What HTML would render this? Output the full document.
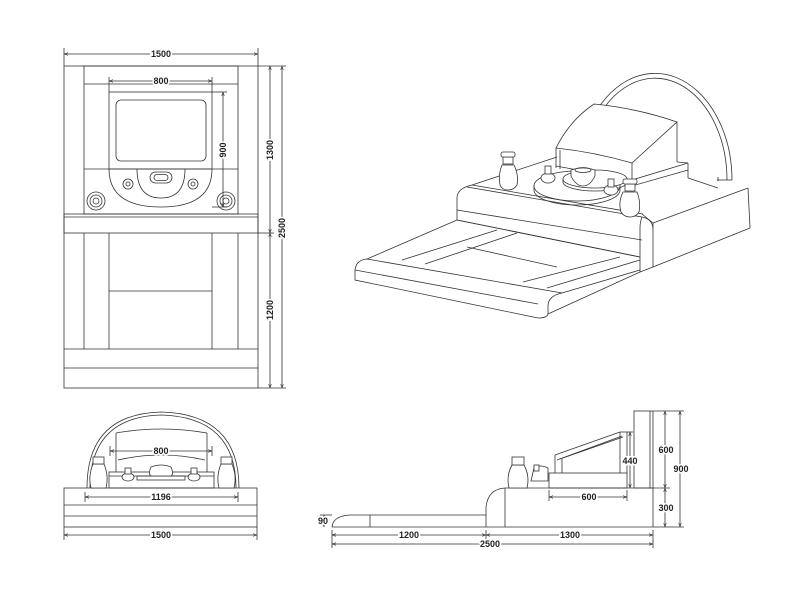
<!DOCTYPE html>
<html><head><meta charset="utf-8"><style>
html,body{margin:0;padding:0;background:#fff;}
svg{display:block;}
text{font-family:"Liberation Sans",sans-serif;font-size:9px;font-weight:bold;fill:#222;}
</style></head><body>
<svg width="800" height="600" viewBox="0 0 800 600" xmlns="http://www.w3.org/2000/svg">
<defs>
<marker id="a" viewBox="0 0 6 6" refX="6" refY="3" markerWidth="5" markerHeight="5" orient="auto-start-reverse"><path d="M0,1 L6,3 L0,5" fill="none" stroke="#333" stroke-width="0.8"/></marker>
</defs>
<g fill="none" stroke="#333" stroke-width="0.8">
<!-- ===== TOP VIEW ===== -->
<rect x="64" y="66" width="194" height="322"/>
<rect x="84" y="66" width="154" height="148"/>
<line x1="84" y1="84" x2="238" y2="84"/>
<rect x="64" y="214" width="194" height="19"/>
<line x1="64" y1="217" x2="258" y2="217"/>
<rect x="109" y="92" width="103" height="77"/>
<rect x="116" y="100" width="90" height="61" rx="5"/>
<line x1="84" y1="169" x2="238" y2="169"/>
<path d="M109,169 Q109,207 161,207 Q212,207 212,169"/>
<path d="M137,169 Q137,198 161,198 Q185,198 185,169"/>
<rect x="150" y="172" width="22" height="11" rx="5.5"/>
<rect x="154" y="174.5" width="14" height="6" rx="3"/>
<circle cx="128" cy="184" r="5"/><circle cx="128" cy="184" r="2"/>
<circle cx="193" cy="184" r="5"/><circle cx="193" cy="184" r="2"/>
<circle cx="96" cy="201" r="9"/><circle cx="96" cy="201" r="6"/><circle cx="96" cy="201" r="3"/>
<circle cx="226" cy="201" r="9"/><circle cx="226" cy="201" r="6"/><circle cx="226" cy="201" r="3"/>
<line x1="84" y1="233" x2="84" y2="349"/><line x1="109" y1="233" x2="109" y2="349"/>
<line x1="212" y1="233" x2="212" y2="349"/><line x1="238" y1="233" x2="238" y2="349"/>
<line x1="109" y1="291" x2="212" y2="291"/>
<line x1="64" y1="349" x2="258" y2="349"/>
<line x1="64" y1="368" x2="258" y2="368"/>
<!-- dims top -->
<line x1="64" y1="48" x2="64" y2="66"/><line x1="258" y1="48" x2="258" y2="66"/>
<line x1="64" y1="54" x2="258" y2="54" marker-start="url(#a)" marker-end="url(#a)"/>
<line x1="109" y1="77" x2="109" y2="92"/><line x1="212" y1="77" x2="212" y2="92"/>
<line x1="109" y1="81" x2="212" y2="81" marker-start="url(#a)" marker-end="url(#a)"/>
<line x1="212" y1="92" x2="227" y2="92"/><line x1="212" y1="207" x2="227" y2="207"/>
<line x1="223" y1="92" x2="223" y2="207" marker-start="url(#a)" marker-end="url(#a)"/>
<line x1="258" y1="66" x2="286" y2="66"/><line x1="258" y1="233" x2="274" y2="233"/><line x1="258" y1="388" x2="286" y2="388"/>
<line x1="270" y1="66" x2="270" y2="233" marker-start="url(#a)" marker-end="url(#a)"/>
<line x1="270" y1="233" x2="270" y2="388" marker-start="url(#a)" marker-end="url(#a)"/>
<line x1="282" y1="66" x2="282" y2="388" marker-start="url(#a)" marker-end="url(#a)"/>

<!-- ===== ISO VIEW ===== -->
<!-- arch -->
<path d="M590,123 A77,107 0 0 1 732,180"/>
<path d="M594,126 A72,102 0 0 1 727,180"/>
<line x1="718" y1="177" x2="718" y2="181"/>
<line x1="717" y1="180" x2="732" y2="180"/>
<!-- lower slab -->
<path d="M355,270 Q356,260 367,259 L562,293"/>
<path d="M355,270 L355,280 L538,318"/>
<path d="M562,293 Q548,296 548,306 L548,314"/>
<path d="M538,318 Q547,318 548,314"/>
<line x1="367" y1="259" x2="457" y2="220"/>
<line x1="457" y1="220" x2="640" y2="257"/>
<line x1="402" y1="260" x2="497" y2="230"/>
<line x1="425" y1="264" x2="517" y2="233"/>
<line x1="523" y1="282" x2="620" y2="257"/>
<line x1="547" y1="288" x2="640" y2="260"/>
<line x1="467" y1="247" x2="557" y2="267"/>
<line x1="355" y1="270" x2="538" y2="304"/>
<line x1="562" y1="293" x2="640" y2="270"/>
<line x1="548" y1="314" x2="640" y2="272"/>
<!-- platform -->
<line x1="472" y1="185" x2="557" y2="157"/>
<path d="M472,185 Q458,188 457,197 L457,220"/>
<path d="M467,187 L642,217 Q652,219 653,228"/>
<line x1="472" y1="185" x2="643" y2="214"/>
<path d="M457,210 L642,240"/>
<line x1="457" y1="220" x2="640" y2="257"/>
<path d="M642,217 Q640,222 640,228 L640,272"/>
<line x1="653" y1="223" x2="653" y2="267"/>
<line x1="653" y1="223" x2="748" y2="188"/>
<line x1="748" y1="188" x2="750" y2="228"/>
<line x1="653" y1="267" x2="750" y2="228"/>
<line x1="640" y1="272" x2="653" y2="267"/>
<line x1="688" y1="178" x2="718" y2="188"/>
<line x1="642" y1="214" x2="653" y2="223"/>
<!-- headstone plinth -->
<line x1="556" y1="166" x2="632" y2="180"/>
<line x1="632" y1="180" x2="688" y2="163"/>
<line x1="688" y1="163" x2="688" y2="178"/>
<line x1="677" y1="162" x2="688" y2="163"/>
<line x1="632" y1="186" x2="688" y2="170"/>
<!-- headstone -->
<path d="M594,104 Q636,108 677,122 L632,163 Q594,152 556,148 Q570,120 594,104 Z" fill="#fff"/>
<line x1="556" y1="148" x2="556" y2="168"/>
<line x1="560" y1="150" x2="560" y2="169"/>
<line x1="632" y1="163" x2="632" y2="181"/>
<line x1="677" y1="122" x2="677" y2="162"/>
<!-- tray -->
<ellipse cx="577" cy="186" rx="43" ry="15" fill="#fff"/>
<path d="M534,186 L534,190 A43,15 0 0 0 620,190 L620,186"/>
<ellipse cx="595" cy="179" rx="32" ry="9" fill="#fff"/>
<path d="M563,179 v3 a32,9 0 0 0 64,0 v-3"/>
<path d="M571,170 Q583,166 595,170 L595,176 Q590,186 583,186 Q576,186 571,176 Z" fill="#fff"/>
<ellipse cx="583" cy="170" rx="8" ry="2.5"/>
<ellipse cx="548" cy="178" rx="7" ry="5" fill="#fff"/>
<rect x="545" y="166" width="6" height="8" fill="#fff"/>
<ellipse cx="611" cy="190" rx="7" ry="5" fill="#fff"/>
<rect x="608" y="179" width="6" height="8" fill="#fff"/>
<!-- vases -->
<path d="M502,165 Q498,175 500,185 Q502,190 508,190 Q514,190 517,185 Q519,175 514,165 Z" fill="#fff"/>
<rect x="503" y="157" width="10" height="7" fill="#fff"/><rect x="501" y="152" width="14" height="5" rx="2" fill="#fff"/>
<path d="M623,192 Q618,202 621,212 Q624,217 630,217 Q636,217 639,212 Q641,202 637,192 Z" fill="#fff"/>
<rect x="625" y="184" width="10" height="7" fill="#fff"/><rect x="623" y="179" width="14" height="5" rx="2" fill="#fff"/>

<!-- ===== FRONT VIEW ===== -->
<rect x="64" y="488" width="193" height="39"/>
<line x1="64" y1="505" x2="257" y2="505"/>
<line x1="64" y1="516" x2="257" y2="516"/>
<path d="M87,488 Q87,414 161,412 Q239,414 239,488"/>
<path d="M90,488 Q90,417 161,415 Q236,417 236,488"/>
<rect x="109" y="472" width="105" height="16"/>
<line x1="109" y1="476" x2="214" y2="476"/>
<line x1="116" y1="472" x2="116" y2="433"/><line x1="207" y1="472" x2="207" y2="433"/>
<path d="M116,433 Q161,425 207,433"/>
<path d="M118,460 Q161,450 205,460"/>
<rect x="137" y="476" width="48" height="4"/>
<path d="M151,467 Q161,463 171,467 Q174,474 171,476 L151,476 Q148,474 151,467 Z" fill="#fff"/>
<ellipse cx="128" cy="477" rx="6" ry="4" fill="#fff"/><rect x="125" y="468" width="6" height="6" fill="#fff"/>
<ellipse cx="194" cy="477" rx="6" ry="4" fill="#fff"/><rect x="191" y="468" width="6" height="6" fill="#fff"/>
<path d="M93,464 Q88,476 91,488 L106,488 Q109,476 104,464 Z" fill="#fff"/>
<rect x="93" y="457" width="11" height="7" fill="#fff"/>
<path d="M221,464 Q216,476 219,488 L234,488 Q237,476 232,464 Z" fill="#fff"/>
<rect x="221" y="457" width="11" height="7" fill="#fff"/>
<line x1="110" y1="446" x2="110" y2="456"/><line x1="212" y1="446" x2="212" y2="456"/>
<line x1="110" y1="451" x2="212" y2="451" marker-start="url(#a)" marker-end="url(#a)"/>
<line x1="85" y1="492" x2="85" y2="502"/><line x1="238" y1="492" x2="238" y2="502"/>
<line x1="85" y1="497" x2="238" y2="497" marker-start="url(#a)" marker-end="url(#a)"/>
<line x1="64" y1="527" x2="64" y2="540"/><line x1="257" y1="527" x2="257" y2="540"/>
<line x1="64" y1="535" x2="257" y2="535" marker-start="url(#a)" marker-end="url(#a)"/>

<!-- ===== SIDE VIEW ===== -->
<path d="M332,527 Q333,516 350,515 L486,515"/>
<line x1="332" y1="527" x2="653" y2="527"/>
<line x1="370" y1="515" x2="370" y2="527"/>
<path d="M486,527 L486,507 Q488,489 505,488 L653,488 L653,527"/>
<line x1="505" y1="488" x2="505" y2="527"/>
<rect x="634" y="411" width="19" height="77"/>
<line x1="650" y1="411" x2="650" y2="488"/>
<rect x="549" y="473" width="78" height="15"/>
<line x1="555" y1="473" x2="555" y2="455"/>
<line x1="562" y1="473" x2="562" y2="459"/>
<line x1="555" y1="455" x2="620" y2="432"/>
<line x1="557" y1="460" x2="622" y2="436"/>
<line x1="560" y1="459" x2="623" y2="437"/>
<line x1="620" y1="432" x2="627" y2="432"/>
<line x1="620" y1="432" x2="620" y2="473"/><line x1="627" y1="432" x2="627" y2="473"/>
<path d="M512,465 Q506,476 509,488 L527,488 Q530,476 524,465 Z" fill="#fff"/>
<rect x="512" y="457" width="12" height="8" fill="#fff"/>
<path d="M531,481 L548,481 L548,468 Q540,464 534,468 L531,481 Z" fill="#fff"/>
<rect x="534" y="465" width="5" height="6" fill="#fff"/>
<!-- side dims -->
<line x1="332" y1="530" x2="332" y2="548"/><line x1="486" y1="530" x2="486" y2="540"/><line x1="653" y1="530" x2="653" y2="548"/>
<line x1="332" y1="535" x2="486" y2="535" marker-start="url(#a)" marker-end="url(#a)"/>
<line x1="486" y1="535" x2="653" y2="535" marker-start="url(#a)" marker-end="url(#a)"/>
<line x1="332" y1="544" x2="653" y2="544" marker-start="url(#a)" marker-end="url(#a)"/>
<line x1="320" y1="515" x2="332" y2="515"/>
<line x1="324" y1="515" x2="324" y2="527" marker-start="url(#a)" marker-end="url(#a)"/>
<line x1="549" y1="490" x2="549" y2="501"/><line x1="627" y1="490" x2="627" y2="501"/>
<line x1="549" y1="497" x2="627" y2="497" marker-start="url(#a)" marker-end="url(#a)"/>
<line x1="627" y1="432" x2="633" y2="432"/>
<line x1="630" y1="432" x2="630" y2="488" marker-start="url(#a)" marker-end="url(#a)"/>
<line x1="653" y1="411" x2="684" y2="411"/><line x1="653" y1="488" x2="670" y2="488"/><line x1="653" y1="527" x2="684" y2="527"/>
<line x1="665" y1="411" x2="665" y2="488" marker-start="url(#a)" marker-end="url(#a)"/>
<line x1="665" y1="488" x2="665" y2="527" marker-start="url(#a)" marker-end="url(#a)"/>
<line x1="680" y1="411" x2="680" y2="527" marker-start="url(#a)" marker-end="url(#a)"/>
</g>
<!-- labels -->
<g>
<text x="161" y="57" text-anchor="middle" style="paint-order:stroke" stroke="#fff" stroke-width="3">1500</text>
<text x="161" y="84" text-anchor="middle" stroke="#fff" stroke-width="3" style="paint-order:stroke">800</text>
<text transform="translate(226,150) rotate(-90)" text-anchor="middle" stroke="#fff" stroke-width="3" style="paint-order:stroke">900</text>
<text transform="translate(273,150) rotate(-90)" text-anchor="middle" stroke="#fff" stroke-width="3" style="paint-order:stroke">1300</text>
<text transform="translate(273,310) rotate(-90)" text-anchor="middle" stroke="#fff" stroke-width="3" style="paint-order:stroke">1200</text>
<text transform="translate(285,228) rotate(-90)" text-anchor="middle" stroke="#fff" stroke-width="3" style="paint-order:stroke">2500</text>
<text x="161" y="454" text-anchor="middle" stroke="#fff" stroke-width="3" style="paint-order:stroke">800</text>
<text x="161" y="500" text-anchor="middle" stroke="#fff" stroke-width="3" style="paint-order:stroke">1196</text>
<text x="161" y="538" text-anchor="middle" stroke="#fff" stroke-width="3" style="paint-order:stroke">1500</text>
<text x="409" y="538" text-anchor="middle" stroke="#fff" stroke-width="3" style="paint-order:stroke">1200</text>
<text x="570" y="538" text-anchor="middle" stroke="#fff" stroke-width="3" style="paint-order:stroke">1300</text>
<text x="490" y="547" text-anchor="middle" stroke="#fff" stroke-width="3" style="paint-order:stroke">2500</text>
<text x="323" y="524" text-anchor="middle" stroke="#fff" stroke-width="3" style="paint-order:stroke">90</text>
<text x="589" y="500" text-anchor="middle" stroke="#fff" stroke-width="3" style="paint-order:stroke">600</text>
<text x="630" y="464" text-anchor="middle" stroke="#fff" stroke-width="3" style="paint-order:stroke">440</text>
<text x="666" y="453" text-anchor="middle" stroke="#fff" stroke-width="3" style="paint-order:stroke">600</text>
<text x="666" y="511" text-anchor="middle" stroke="#fff" stroke-width="3" style="paint-order:stroke">300</text>
<text x="681" y="472" text-anchor="middle" stroke="#fff" stroke-width="3" style="paint-order:stroke">900</text>
</g>
</svg>
</body></html>
